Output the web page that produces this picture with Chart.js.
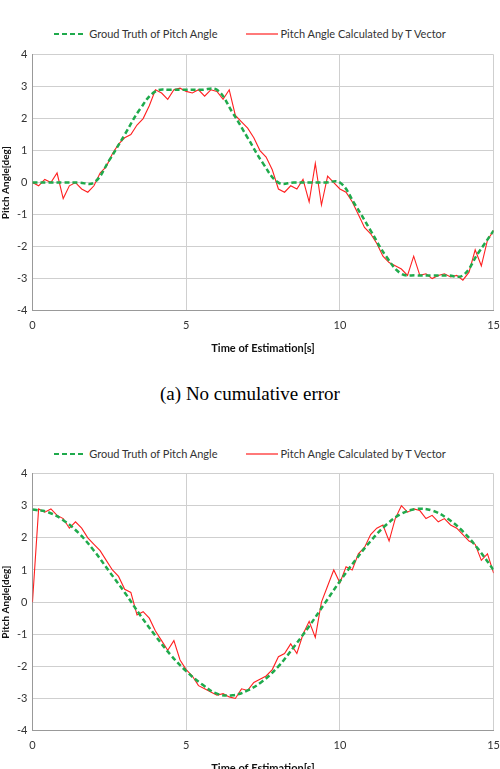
<!DOCTYPE html>
<html>
<head>
<meta charset="utf-8">
<script src="https://cdn.jsdelivr.net/npm/chart.js@4"></script>
<style>
  body { margin: 0; width: 500px; height: 769px; background: #fff; position: relative; overflow: hidden; font-family: Lato, sans-serif; }
  .box { position: absolute; left: 0; width: 508px; }
  .legend { position: absolute; left: 0; width: 500px; font-size: 11px; color: #333; display: flex; justify-content: center; gap: 28px; }
  .legend span { display: inline-flex; align-items: center; gap: 3px; }
  .caption { position: absolute; left: 0; width: 500px; text-align: center; font-family: "Liberation Serif", serif; font-size: 19px; }
</style>
</head>
<body>
<div class="legend" style="top:27px">
  <span><svg width="32" height="4"><line x1="0" y1="2" x2="32" y2="2" stroke="#1faa4c" stroke-width="2" stroke-dasharray="5,3"/></svg>Groud Truth of Pitch Angle</span>
  <span><svg width="32" height="4"><line x1="0" y1="2" x2="32" y2="2" stroke="#ff2020" stroke-width="1.2"/></svg>Pitch Angle Calculated by T Vector</span>
</div>
<div class="box" style="top:43px;height:316px"><canvas id="c1"></canvas></div>
<div class="caption" style="top:383px">(a) No cumulative error</div>
<div class="legend" style="top:447px">
  <span><svg width="32" height="4"><line x1="0" y1="2" x2="32" y2="2" stroke="#1faa4c" stroke-width="2" stroke-dasharray="5,3"/></svg>Groud Truth of Pitch Angle</span>
  <span><svg width="32" height="4"><line x1="0" y1="2" x2="32" y2="2" stroke="#ff2020" stroke-width="1.2"/></svg>Pitch Angle Calculated by T Vector</span>
</div>
<div class="box" style="top:462px;height:317px"><canvas id="c2"></canvas></div>
<script>
// ground truth sampled every 0.5 s, estimates every 0.2 s
const TRUTH_STEP = 0.5;
const EST_STEP = 0.2;

const truthA = [0, 0, 0, 0, 0, 0.7, 1.5, 2.3, 2.85, 2.9, 2.9, 2.9, 2.9, 2.2, 1.4, 0.6,
  0, 0, 0, 0, 0, -0.7, -1.5, -2.3, -2.85, -2.9, -2.9, -2.9, -2.9, -2.2, -1.5];
const estA = [0.0, -0.1, 0.1, 0.0, 0.3, -0.5, -0.1, 0.0, -0.2, -0.3, -0.1,
  0.3, 0.5, 0.9, 1.2, 1.4, 1.5, 1.8, 2.0, 2.4, 2.9,
  2.8, 2.6, 2.9, 2.95, 2.85, 2.8, 2.9, 2.7, 2.9, 2.85,
  2.6, 2.9, 2.1, 1.9, 1.7, 1.4, 1.0, 0.8, 0.4, -0.2,
  -0.3, -0.1, -0.2, 0.1, -0.6, 0.6, -0.7, 0.2, 0.0, -0.2,
  -0.3, -0.6, -1.0, -1.4, -1.6, -1.9, -2.3, -2.5, -2.6, -2.7,
  -2.9, -2.3, -2.9, -2.85, -3.0, -2.9, -2.85, -2.95, -2.9, -3.05,
  -2.8, -2.1, -2.6, -1.8, -1.5];

const truthB = [2.88, 2.8, 2.55, 2.15, 1.6, 0.95, 0.3, -0.4, -1.05, -1.65, -2.15, -2.55, -2.85, -2.9,
  -2.75, -2.45, -2.0, -1.4, -0.75, -0.05, 0.65, 1.3, 1.9, 2.4, 2.75, 2.9, 2.85, 2.6, 2.2, 1.65, 1.0];
const estB = [0.0, 2.9, 2.8, 2.9, 2.7, 2.6, 2.3, 2.5, 2.3, 2.0, 1.8,
  1.6, 1.3, 1.0, 0.8, 0.4, 0.3, -0.4, -0.3, -0.5, -0.9,
  -1.2, -1.5, -1.2, -1.8, -2.1, -2.3, -2.6, -2.7, -2.8, -2.9,
  -2.85, -2.95, -3.0, -2.7, -2.75, -2.5, -2.4, -2.3, -2.1, -1.7,
  -1.6, -1.3, -1.6, -1.0, -0.6, -1.1, 0.0, 0.5, 1.0, 0.6,
  1.1, 1.0, 1.5, 1.7, 2.1, 2.3, 2.4, 1.9, 2.6, 3.0,
  2.8, 2.9, 2.85, 2.6, 2.7, 2.5, 2.6, 2.4, 2.3, 2.1,
  1.9, 1.8, 1.3, 1.5, 0.9];

const X_TICKS = [0, 5, 10, 15];

function pts(vals, step) {
  return vals.map((v, i) => ({ x: +(i * step).toFixed(2), y: v }));
}

function makeChart(id, truth, est) {
  new Chart(document.getElementById(id), {
    type: 'line',
    data: {
      datasets: [
        { label: 'Groud Truth of Pitch Angle', data: pts(truth, TRUTH_STEP), borderColor: '#1faa4c',
          borderWidth: 2.5, borderDash: [5, 3], pointRadius: 0, tension: 0.4, order: 1 },
        { label: 'Pitch Angle Calculated by T Vector', data: pts(est, EST_STEP), borderColor: '#ff2020',
          borderWidth: 1.1, pointRadius: 0, tension: 0, order: 2 }
      ]
    },
    options: {
      responsive: true, maintainAspectRatio: false, animation: false,
      layout: { padding: { left: 0, right: 0, top: 4, bottom: 0 } },
      plugins: { legend: { display: false }, tooltip: { enabled: false } },
      scales: {
        x: {
          type: 'linear', min: 0, max: 15,
          afterBuildTicks: ax => { ax.ticks = X_TICKS.map(v => ({ value: v })); },
          grid: { color: '#cfcfcf', drawTicks: false },
          border: { color: '#999' },
          ticks: { color: '#333', font: { family: 'Lato', size: 11 }, padding: 8, maxRotation: 0 },
          title: { display: true, text: 'Time of Estimation[s]', color: '#111', font: { family: 'Lato', size: 11, weight: 'bold' }, padding: { top: 2 } }
        },
        y: {
          min: -4, max: 4,
          grid: { color: '#cfcfcf', drawTicks: false },
          border: { color: '#999' },
          ticks: { stepSize: 1, color: '#333', font: { family: 'Lato', size: 11 }, padding: 5 },
          title: { display: true, text: 'Pitch Angle[deg]', color: '#111', font: { family: 'Lato', size: 10, weight: 'bold' }, padding: 0 }
        }
      }
    }
  });
}

makeChart('c1', truthA, estA);
makeChart('c2', truthB, estB);
</script>
</body>
</html>
